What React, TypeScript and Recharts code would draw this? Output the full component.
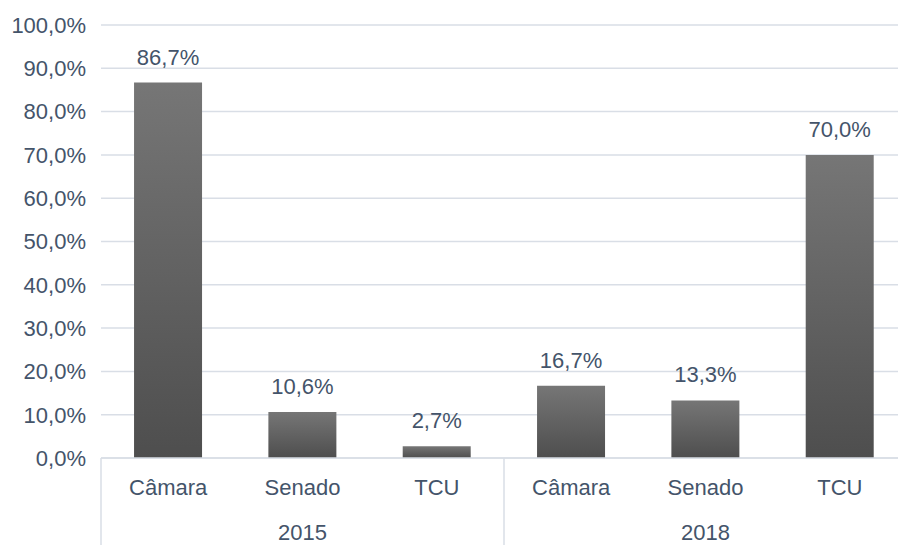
import React from 'react';
import { BarChart, Bar, XAxis, YAxis, CartesianGrid, LabelList } from 'recharts';

// Categories, years and shares
const categories = ['Câmara', 'Senado', 'TCU', 'Câmara', 'Senado', 'TCU'];
const years = ['2015', '2015', '2015', '2018', '2018', '2018'];
const values = [0.867, 0.106, 0.027, 0.167, 0.133, 0.7];
const yTicks = [0, 0.1, 0.2, 0.3, 0.4, 0.5, 0.6, 0.7, 0.8, 0.9, 1];

const data = categories.map((name, i) => ({ key: `${name}-${years[i]}`, name, year: years[i], value: values[i] }));

const CHART_W = 907;
const CHART_H = 545;
const Y_AXIS_W = 101;
const TEXT = '#44546A';
const GRID = '#D9DEE6';
const FONT = '"Liberation Sans", Arial, sans-serif';

const pct = (v: number) => `${(v * 100).toFixed(1).replace('.', ',')}%`;

const slot = (CHART_W - Y_AXIS_W) / data.length;

const CategoryTick = (props: any) => {
  const { x, y, payload, index } = props;
  const item = data[index];
  const prev = index > 0 ? data[index - 1] : null;
  const next = index < data.length - 1 ? data[index + 1] : null;
  const startsGroup = !prev || prev.year !== item.year;
  const isMiddle = prev && next && prev.year === item.year && next.year === item.year;
  const axisY = y - 4;
  return (
    <g>
      {startsGroup && (
        <line x1={x - slot / 2} x2={x - slot / 2} y1={axisY} y2={CHART_H} stroke={GRID} strokeWidth={1.5} />
      )}
      {index === data.length - 1 && (
        <line x1={x + slot / 2} x2={x + slot / 2} y1={axisY} y2={CHART_H} stroke={GRID} strokeWidth={1.5} />
      )}
      <text x={x} y={axisY + 29} dy="0.35em" textAnchor="middle" fill={TEXT} fontSize={22} fontFamily={FONT}>
        {item ? item.name : payload.value}
      </text>
      {isMiddle && (
        <text x={x} y={axisY + 74} dy="0.35em" textAnchor="middle" fill={TEXT} fontSize={22} fontFamily={FONT}>
          {item.year}
        </text>
      )}
    </g>
  );
};

const App: React.FC = () => {
  return (
    <div style={{ position: 'absolute', left: 0, top: 0, width: 898, height: CHART_H, overflow: 'hidden', background: '#fff' }}>
      <BarChart
        width={CHART_W}
        height={CHART_H}
        data={data}
        margin={{ top: 25, right: 0, left: 0, bottom: 0 }}
        barCategoryGap="24.6%"
      >
        <defs>
          <linearGradient id="barGrad" x1="0" y1="0" x2="0" y2="1">
            <stop offset="0%" stopColor="#767676" />
            <stop offset="100%" stopColor="#4E4E4E" />
          </linearGradient>
        </defs>
        <CartesianGrid vertical={false} stroke={GRID} strokeWidth={1.5} />
        <XAxis
          dataKey="key"
          height={87}
          interval={0}
          axisLine={{ stroke: GRID, strokeWidth: 1.5 }}
          tickLine={false}
          tickSize={0}
          tickMargin={4}
          tick={<CategoryTick />}
        />
        <YAxis
          width={Y_AXIS_W}
          domain={[0, 1]}
          ticks={yTicks}
          tickFormatter={pct}
          axisLine={false}
          tickLine={false}
          tickSize={6}
          tickMargin={9}
          tick={{ fill: TEXT, fontSize: 22, fontFamily: FONT }}
          interval={0}
        />
        <Bar dataKey="value" fill="url(#barGrad)" isAnimationActive={false}>
          <LabelList
            dataKey="value"
            position="top"
            offset={18}
            formatter={(v: any) => pct(Number(v))}
            fill={TEXT}
            fontSize={22}
            fontFamily={FONT}
          />
        </Bar>
      </BarChart>
    </div>
  );
};

export default App;
